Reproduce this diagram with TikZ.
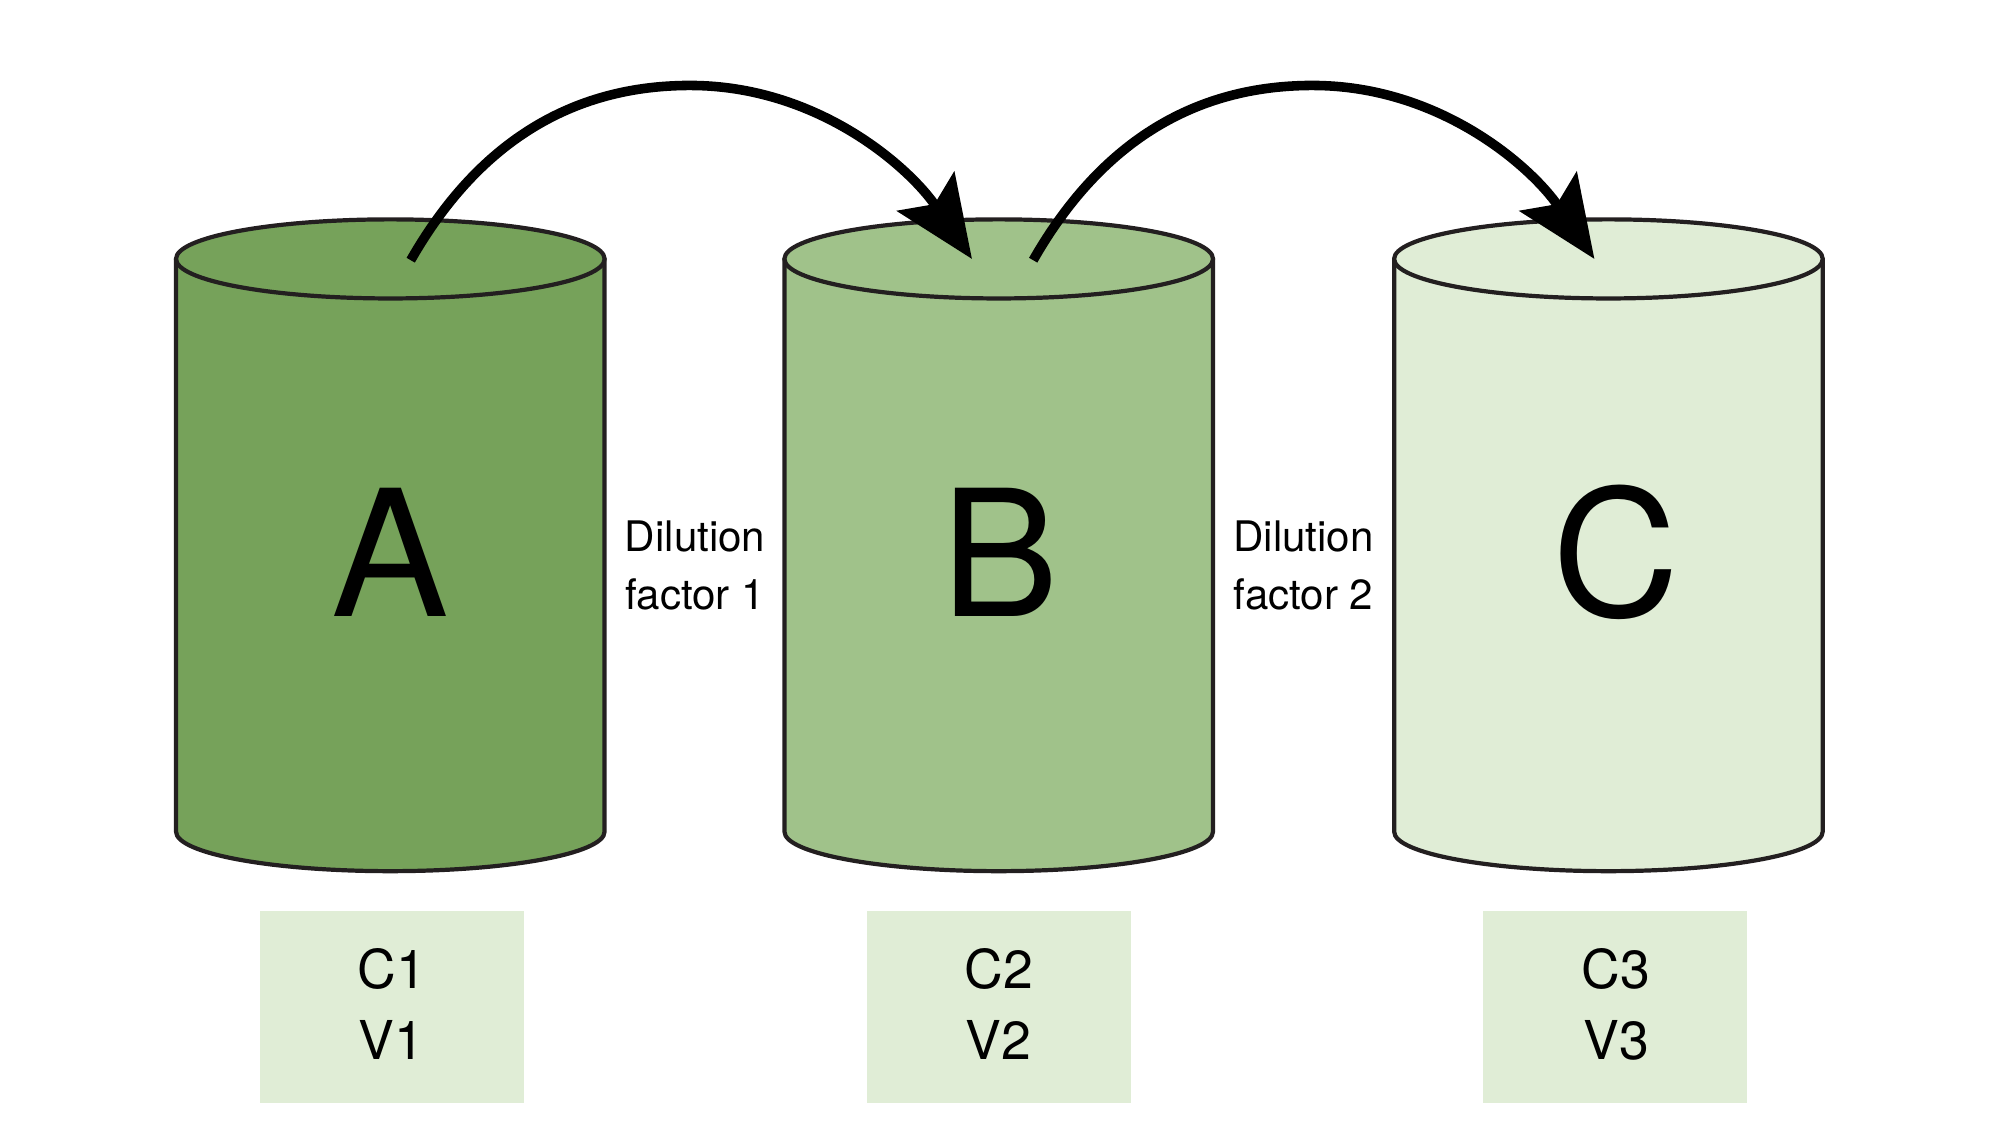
\documentclass[tikz,border=0pt]{standalone}
\usepackage{fontspec}
\setmainfont{TeX Gyre Heros}
\usetikzlibrary{arrows.meta}
\definecolor{outl}{HTML}{231F20}
\definecolor{gA}{HTML}{76A25A}
\definecolor{gB}{HTML}{A0C28A}
\definecolor{gC}{HTML}{E0EDD6}
\tikzset{
  cyl/.style={draw=outl, line width=3.3pt, line join=round},
  bigletter/.style={anchor=base, font=\fontsize{138}{138}\selectfont, inner sep=0pt},
  dil/.style={anchor=base, align=center, inner sep=0pt, font=\fontsize{33}{46}\selectfont},
  infobox/.style={fill=gC, draw=none, minimum width=207pt, minimum height=151pt, inner sep=0pt},
  infotext/.style={anchor=base, align=center, inner sep=0pt, font=\fontsize{42}{56}\selectfont},
  flow/.style={line width=7.5pt, -{Stealth[length=64pt, width=54pt, inset=12pt]}}
}
\begin{document}
\begin{tikzpicture}[x=1pt, y=1pt]
\useasboundingbox (0,0) rectangle (1568,897);
% cylinders
\foreach \cx/\col in {306/gA, 783/gB, 1261/gC} {
  \path[cyl, fill=\col] (\cx-168,694) -- (\cx-168,245)
     arc[start angle=180, end angle=360, x radius=168, y radius=31]
     -- (\cx+168,694) -- cycle;
  \path[cyl, fill=\col] (\cx,694) ellipse [x radius=168, y radius=31];
}
\node[bigletter] (A) at (306,414) {A};
\node[bigletter] (B) at (784,414) {B};
\node[bigletter] (C) at (1267,414) {C};
% dilution labels
\node[dil] (d1) at (545,419) {Dilution\\factor 1};
\node[dil] (d2) at (1022,419) {Dilution\\factor 2};
% info boxes
\node[infobox] (box1) at (307.5,107.5) {};
\node[infobox] (box2) at (783.5,107.5) {};
\node[infobox] (box3) at (1266.5,107.5) {};
\node[infotext] (t1) at (307,66) {C1\\V1};
\node[infotext] (t2) at (783,66) {C2\\V2};
\node[infotext] (t3) at (1267,66) {C3\\V3};
% arrows
\coordinate (s1) at (322,693);
\coordinate (e1) at (762,694);
\coordinate (s2) at (810,693);
\coordinate (e2) at (1250,694);
\draw[flow] (s1) .. controls (370,777) and (440,830) .. (541,830)
   .. controls (640,830) and (712,767) .. (e1);
\draw[flow] (s2) .. controls (858,777) and (928,830) .. (1029,830)
   .. controls (1128,830) and (1200,767) .. (e2);
\end{tikzpicture}
\end{document}
